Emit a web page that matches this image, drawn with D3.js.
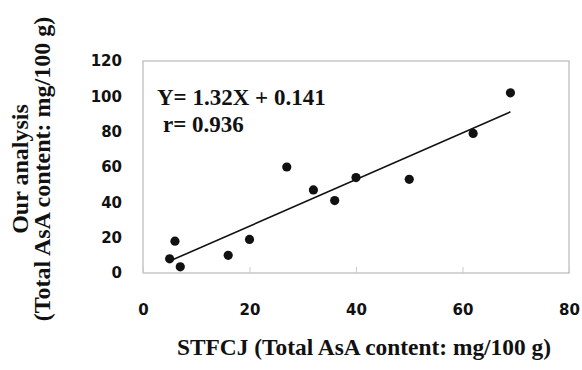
<!DOCTYPE html>
<html>
<head>
<meta charset="utf-8">
<script src="https://cdn.jsdelivr.net/npm/d3@7"></script>
<style>
  body { margin: 0; background: #fff; }
  .tick text { font-family: "DejaVu Sans", sans-serif; font-weight: bold; font-size: 15px; fill: #111; }
  .serif { font-family: "Liberation Serif", "Times New Roman", serif; font-weight: bold; fill: #111; }
</style>
</head>
<body>
<div class="chart"></div>
<script>
var svgWidth = 582;
var svgHeight = 370;

var margin = { top: 61, right: 13, bottom: 97, left: 143 };
var width = svgWidth - margin.left - margin.right;
var height = svgHeight - margin.top - margin.bottom;

// data
var stfcj = [5, 6, 7, 16, 20, 27, 32, 36, 40, 50, 62, 69];
var ours = [8, 18, 3.5, 10, 19, 60, 47, 41, 54, 53, 79, 102];
var xTicks = [0, 20, 40, 60, 80];
var yTicks = [0, 20, 40, 60, 80, 100, 120];
var slope = 1.32, intercept = 0.141;

var svg = d3.select(".chart")
  .append("svg")
  .attr("width", svgWidth)
  .attr("height", svgHeight);

var chartGroup = svg.append("g")
  .attr("transform", `translate(${margin.left}, ${margin.top})`);

var x = d3.scaleLinear().domain([0, 80]).range([0, width]);
var y = d3.scaleLinear().domain([0, 120]).range([height, 0]);

// plot box
chartGroup.append("rect")
  .attr("width", width)
  .attr("height", height)
  .attr("fill", "none")
  .attr("stroke", "#aaa")
  .attr("stroke-width", 1);

// x axis labels + small inner ticks
var xAxis = chartGroup.append("g")
  .attr("transform", `translate(0,${height})`)
  .call(d3.axisBottom(x).tickValues(xTicks).tickSize(-6).tickPadding(31));
xAxis.select(".domain").remove();
xAxis.selectAll("line").attr("stroke", "#ccc");

var yAxis = chartGroup.append("g")
  .call(d3.axisLeft(y).tickValues(yTicks).tickSize(0).tickPadding(21));
yAxis.select(".domain").remove();

// regression line from min to max x
var xr = d3.extent(stfcj);
chartGroup.append("line")
  .attr("x1", x(xr[0])).attr("y1", y(slope * xr[0] + intercept))
  .attr("x2", x(xr[1])).attr("y2", y(slope * xr[1] + intercept))
  .attr("stroke", "#111")
  .attr("stroke-width", 1.6);

chartGroup.selectAll("circle")
  .data(stfcj)
  .enter()
  .append("circle")
  .attr("cx", d => x(d))
  .attr("cy", (d, i) => y(ours[i]))
  .attr("r", 4.6)
  .attr("fill", "#111");

// equation text
chartGroup.append("text")
  .attr("class", "serif")
  .attr("x", 14).attr("y", 44)
  .style("font-size", "23px")
  .text("Y= 1.32X + 0.141");
chartGroup.append("text")
  .attr("class", "serif")
  .attr("x", 20).attr("y", 71)
  .style("font-size", "23px")
  .text("r= 0.936");

// axis titles
svg.append("text")
  .attr("class", "serif")
  .attr("x", 364).attr("y", 355)
  .attr("text-anchor", "middle")
  .style("font-size", "23.4px")
  .text("STFCJ (Total AsA content: mg/100 g)");

var yt = svg.append("text")
  .attr("class", "serif")
  .attr("transform", "translate(28,169) rotate(-90)")
  .attr("text-anchor", "middle")
  .style("font-size", "24px");
yt.append("tspan").attr("x", 0).attr("dy", 0).text("Our analysis");
yt.append("tspan").attr("x", 0).attr("dy", 22).text("(Total AsA content: mg/100 g)");
</script>
</body>
</html>
